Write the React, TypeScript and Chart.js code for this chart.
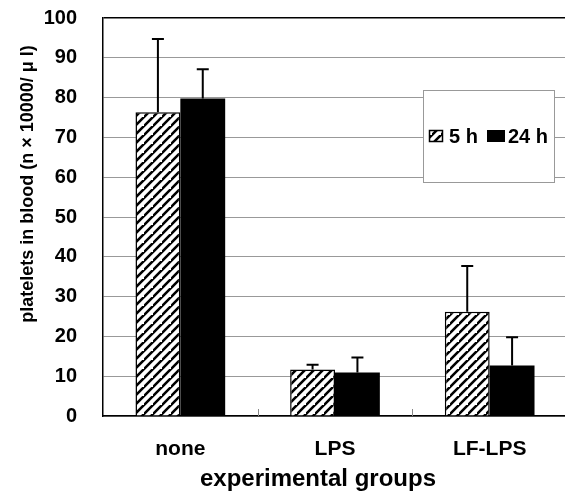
import React, { useEffect, useRef } from "react";
import { Chart, registerables } from "chart.js";

Chart.register(...registerables);

const categories = ["none", "LPS", "LF-LPS"];
const series5h = [76.3, 11.7, 26.2];
const series5hErrTop = [94.7, 12.9, 37.7];
const series24h = [79.8, 10.9, 12.7];
const series24hErrTop = [87.1, 14.7, 19.8];
const seriesLabels = ["5 h", "24 h"];
const yTicks = [0, 10, 20, 30, 40, 50, 60, 70, 80, 90, 100];
const yTitle = "platelets in blood (n × 10000/ μ l)";
const xTitle = "experimental groups";

const FONT = "'Liberation Sans', Arial, sans-serif";

function makeHatch(): CanvasPattern | string {
  const size = 9;
  const c = document.createElement("canvas");
  c.width = size;
  c.height = size;
  const g = c.getContext("2d");
  if (!g) return "#fff";
  g.fillStyle = "#fff";
  g.fillRect(0, 0, size, size);
  g.strokeStyle = "#000";
  g.lineWidth = 2.6;
  g.beginPath();
  g.moveTo(-1, size + 1);
  g.lineTo(size + 1, -1);
  g.moveTo(-size - 1, size + 1);
  g.lineTo(1, -1);
  g.moveTo(size - 1, 2 * size + 1);
  g.lineTo(2 * size + 1, size - 1);
  g.stroke();
  const p = g.createPattern(c, "repeat");
  return p || "#fff";
}

export default function App() {
  const ref = useRef<HTMLCanvasElement | null>(null);

  useEffect(() => {
    if (!ref.current) return;
    const hatch = makeHatch();
    const errTops = [series5hErrTop, series24hErrTop];

    const errorBars = {
      id: "errorBars",
      afterDatasetsDraw(chart: any) {
        const ctx = chart.ctx;
        const y = chart.scales.y;
        ctx.save();
        ctx.strokeStyle = "#000";
        ctx.lineWidth = 2;
        chart.data.datasets.forEach((_: any, di: number) => {
          const meta = chart.getDatasetMeta(di);
          meta.data.forEach((el: any, i: number) => {
            const top = y.getPixelForValue(errTops[di][i]);
            ctx.beginPath();
            ctx.moveTo(el.x, el.y);
            ctx.lineTo(el.x, top);
            ctx.moveTo(el.x - 6, top);
            ctx.lineTo(el.x + 6, top);
            ctx.stroke();
          });
        });
        ctx.restore();
      },
    };

    const extras = {
      id: "extras",
      afterDraw(chart: any) {
        const ctx = chart.ctx;
        const area = chart.chartArea;
        const x = chart.scales.x;
        ctx.save();
        // inward ticks between categories
        ctx.strokeStyle = "#888";
        ctx.lineWidth = 1;
        for (let i = 1; i < categories.length; i++) {
          const px = Math.round((x.getPixelForValue(i - 1) + x.getPixelForValue(i)) / 2) + 0.5;
          ctx.beginPath();
          ctx.moveTo(px, area.bottom);
          ctx.lineTo(px, area.bottom - 7);
          ctx.stroke();
        }
        // legend box
        ctx.fillStyle = "#fff";
        ctx.fillRect(423, 90, 131, 92);
        ctx.strokeStyle = "#999";
        ctx.lineWidth = 1;
        ctx.strokeRect(423.5, 90.5, 131, 92);
        ctx.fillStyle = hatch as any;
        ctx.fillRect(429, 130, 14, 12);
        ctx.strokeStyle = "#000";
        ctx.lineWidth = 1.5;
        ctx.strokeRect(429.5, 130.5, 13, 11);
        ctx.fillStyle = "#000";
        ctx.fillRect(487, 130, 18, 12);
        ctx.font = `bold 20px ${FONT}`;
        ctx.textAlign = "left";
        ctx.textBaseline = "alphabetic";
        ctx.fillText(seriesLabels[0], 449, 143);
        ctx.fillText(seriesLabels[1], 508, 143);
        // axis titles
        ctx.font = `bold 24px ${FONT}`;
        ctx.textAlign = "center";
        ctx.fillText(xTitle, 318, 486);
        ctx.translate(33, 184);
        ctx.rotate(-Math.PI / 2);
        ctx.font = `bold 18px ${FONT}`;
        ctx.fillText(yTitle, 0, 0);
        ctx.restore();
      },
    };

    const chart = new Chart(ref.current, {
      type: "bar",
      data: {
        labels: categories,
        datasets: [
          {
            label: seriesLabels[0],
            data: series5h,
            backgroundColor: hatch as any,
            borderColor: "#000",
            borderWidth: 1.5,
            borderSkipped: "bottom",
            categoryPercentage: 0.58,
            barPercentage: 1.0,
          },
          {
            label: seriesLabels[1],
            data: series24h,
            backgroundColor: "#000",
            borderColor: "#000",
            borderWidth: 0,
            categoryPercentage: 0.58,
            barPercentage: 1.0,
          },
        ],
      },
      options: {
        responsive: false,
        animation: false,
        layout: { padding: { top: 18, right: 3, left: 0, bottom: 0 } },
        plugins: {
          legend: { display: false },
          tooltip: { enabled: false },
        },
        scales: {
          x: {
            grid: { display: false },
            border: { display: true, color: "#000", width: 1.5 },
            ticks: {
              color: "#000",
              padding: 13,
              font: { family: FONT, size: 21, weight: "bold" },
            },
            afterFit(scale: any) {
              scale.height = 76;
              scale.paddingLeft = 0;
              scale.paddingRight = 0;
            },
          },
          y: {
            min: 0,
            max: 100,
            afterBuildTicks(scale: any) {
              scale.ticks = yTicks.map((v) => ({ value: v }));
            },
            grid: {
              drawTicks: false,
              color: (c: any) => (c.tick && c.tick.value === 100 ? "#000" : "#999"),
              lineWidth: (c: any) => (c.tick && c.tick.value === 100 ? 1.5 : 1),
            },
            border: { display: true, color: "#000", width: 1.5 },
            ticks: {
              color: "#000",
              padding: 26,
              font: { family: FONT, size: 20, weight: "bold" },
            },
            afterFit(scale: any) {
              scale.width = 103;
              scale.paddingTop = 0;
              scale.paddingBottom = 0;
            },
          },
        },
      },
      plugins: [errorBars, extras],
    });

    return () => chart.destroy();
  }, []);

  return (
    <div
      style={{
        position: "fixed",
        left: 0,
        top: 0,
        width: 565,
        height: 492,
        overflow: "hidden",
        background: "#fff",
      }}
    >
      <canvas ref={ref} width={570} height={492} style={{ display: "block" }} />
    </div>
  );
}
